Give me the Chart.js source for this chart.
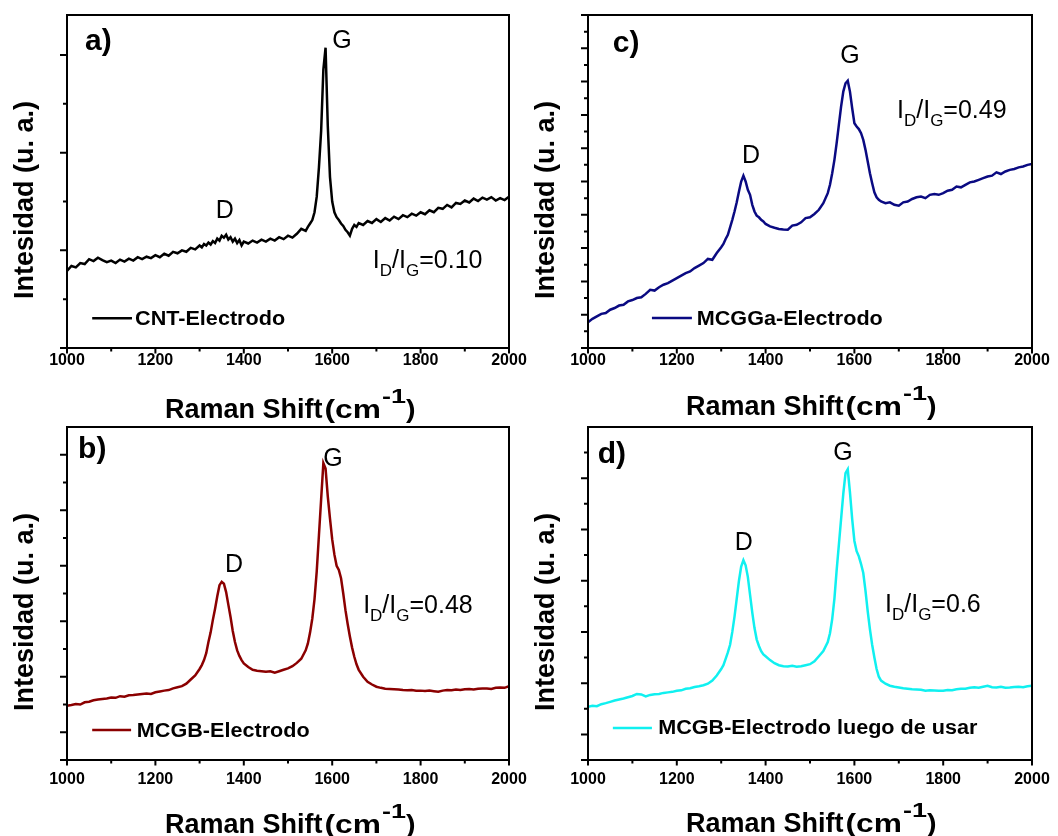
<!DOCTYPE html>
<html>
<head>
<meta charset="utf-8">
<script src="https://cdn.jsdelivr.net/npm/chart.js@4"></script>
<style>
html,body{margin:0;padding:0;background:#fff;}
body{width:1058px;height:836px;position:relative;overflow:hidden;}
canvas{position:absolute;}
</style>
</head>
<body>
<canvas id="ca" width="529" height="424" style="left:0;top:0"></canvas>
<canvas id="cc" width="529" height="424" style="left:529px;top:0"></canvas>
<canvas id="cb" width="529" height="418" style="left:0;top:418px"></canvas>
<canvas id="cd" width="529" height="418" style="left:529px;top:418px"></canvas>
<script>
// ---- data (Raman shift in cm^-1, intensity in arbitrary units) ----
const ramanShift = [
 1000,1010,1020,1030,1040,1050,1060,1070,1080,1090,1100,1110,1120,1130,1140,1150,1160,1170,1180,1190,1200,1210,1220,1230,1240,1250,1260,1270,1280,1290,1300,
 1305,1310,1315,1320,1325,1330,1335,1340,1345,1350,1355,1360,1365,1370,1375,1380,1385,1390,1395,1400,
 1410,1420,1430,1440,1450,1460,1470,1480,1490,1500,1510,1520,1530,1540,
 1545,1550,1555,1560,1565,1570,1575,1580,1585,1590,1595,1600,1605,1610,1615,1620,1625,1630,1635,1640,1645,1650,1655,1660,
 1670,1680,1690,1700,1710,1720,1730,1740,1750,1760,1770,1780,1790,1800,1810,1820,1830,1840,1850,1860,1870,1880,1890,1900,1910,1920,1930,1940,1950,1960,1970,1980,1990,2000
];
const cntElectrodo = [
 1.58,1.68,1.65,1.74,1.72,1.82,1.78,1.85,1.80,1.76,1.79,1.74,1.81,1.77,1.83,1.79,1.86,1.82,1.87,1.84,1.90,1.86,1.93,1.89,1.97,1.94,2.00,1.97,2.05,2.02,2.10,
 2.06,2.13,2.10,2.16,2.12,2.19,2.15,2.24,2.20,2.30,2.26,2.32,2.22,2.27,2.18,2.24,2.15,2.21,2.10,2.18,
 2.14,2.20,2.16,2.22,2.18,2.24,2.20,2.27,2.23,2.30,2.26,2.34,2.44,2.40,
 2.48,2.55,2.62,2.78,3.10,3.70,4.45,5.70,6.15,4.55,3.50,3.00,2.78,2.68,2.62,2.55,2.50,2.42,2.37,2.30,2.44,2.52,2.48,2.56,
 2.52,2.60,2.56,2.64,2.58,2.66,2.61,2.69,2.64,2.72,2.68,2.75,2.71,2.78,2.74,2.82,2.78,2.87,2.85,2.93,2.88,2.97,2.95,3.02,2.98,3.06,3.01,3.08,3.04,3.09,3.02,3.07,3.03,3.10
];
const mcggaElectrodo = [
 1.55,1.75,1.90,2.05,2.10,2.30,2.40,2.55,2.60,2.80,2.88,3.00,3.05,3.25,3.50,3.45,3.65,3.80,3.90,4.05,4.20,4.35,4.50,4.60,4.80,4.95,5.10,5.35,5.30,5.70,6.05,
 6.25,6.55,6.80,7.25,7.70,8.20,8.75,9.40,10.00,10.35,10.00,9.50,9.20,8.60,8.20,7.95,7.85,7.70,7.60,7.45,
 7.30,7.22,7.15,7.12,7.10,7.35,7.40,7.55,7.80,7.85,8.05,8.30,8.70,9.30,
 9.80,10.50,11.30,12.30,13.40,14.50,15.40,15.90,16.05,15.40,14.40,13.50,13.30,13.15,12.90,12.50,11.90,11.20,10.50,9.90,9.35,9.05,8.90,8.80,
 8.70,8.75,8.60,8.55,8.75,8.80,8.95,9.05,9.10,9.00,9.20,9.25,9.20,9.30,9.45,9.50,9.70,9.65,9.80,9.95,10.00,10.10,10.20,10.30,10.35,10.55,10.45,10.60,10.70,10.75,10.85,10.90,11.00,11.05
];
const mcgbElectrodo = [
 1.95,1.98,2.02,2.00,2.08,2.10,2.15,2.18,2.20,2.22,2.25,2.24,2.30,2.28,2.33,2.34,2.36,2.38,2.40,2.38,2.44,2.47,2.50,2.52,2.58,2.62,2.66,2.75,2.90,3.05,3.28,
 3.42,3.60,3.85,4.25,4.60,5.05,5.45,5.90,6.30,6.42,6.35,6.05,5.60,5.15,4.65,4.25,3.95,3.75,3.60,3.48,
 3.35,3.25,3.22,3.20,3.18,3.20,3.15,3.20,3.25,3.30,3.38,3.50,3.65,3.95,
 4.20,4.60,5.10,5.80,6.80,8.10,9.40,10.70,10.50,9.50,8.70,7.95,7.40,7.00,6.85,6.55,6.00,5.40,4.90,4.45,4.05,3.72,3.45,3.25,
 3.00,2.82,2.72,2.64,2.60,2.57,2.56,2.55,2.54,2.52,2.51,2.52,2.50,2.50,2.49,2.50,2.48,2.46,2.50,2.52,2.51,2.54,2.52,2.55,2.56,2.54,2.57,2.58,2.58,2.56,2.60,2.61,2.60,2.66
];
const mcgbLuegoDeUsar = [
 2.08,2.12,2.10,2.18,2.22,2.27,2.32,2.36,2.40,2.45,2.50,2.58,2.56,2.48,2.54,2.57,2.58,2.62,2.64,2.66,2.70,2.72,2.78,2.80,2.85,2.88,2.92,2.98,3.10,3.30,3.55,
 3.70,3.95,4.20,4.50,5.00,5.60,6.30,7.00,7.55,7.80,7.60,7.15,6.45,5.75,5.15,4.70,4.45,4.25,4.12,4.05,
 3.90,3.78,3.70,3.66,3.65,3.68,3.64,3.66,3.70,3.74,3.85,4.05,4.25,4.60,
 4.95,5.50,6.30,7.40,8.40,9.40,10.40,11.20,11.35,10.45,9.40,8.55,8.15,7.95,7.65,7.30,6.60,5.80,5.10,4.50,4.00,3.55,3.25,3.10,
 2.98,2.90,2.86,2.83,2.80,2.78,2.76,2.75,2.74,2.70,2.72,2.71,2.70,2.70,2.73,2.72,2.76,2.78,2.78,2.82,2.84,2.82,2.86,2.90,2.84,2.83,2.86,2.82,2.83,2.85,2.86,2.84,2.88,2.90
];
const seriesLabels = ['CNT-Electrodo','MCGGa-Electrodo','MCGB-Electrodo','MCGB-Electrodo luego de usar'];
const panelLetters = ['a)','c)','b)','d)'];
const ratioValues = ['0.10','0.49','0.48','0.6'];
const xTickLabels = [1000,1200,1400,1600,1800,2000];
const xMinorTicks = [1100,1300,1500,1700,1900];
const yMajorA = [0,2,4,6],            yMinorA = [1,3,5];
const yMajorC = [0,2,4,6,8,10,12,14,16,18,20], yMinorC = [1,3,5,7,9,11,13,15,17,19];
const yMajorB = [0,1,3,5,7,9,11],     yMinorB = [2,4,6,8,10];
const yMajorD = [0,1,3,5,7,9,11],     yMinorD = [2,4,6,8,10,12];
const xTitleMain = 'Raman Shift', xTitleUnit = '(cm', xTitleSup = '-1', xTitleEnd = ')';
const yTitle = 'Intesidad (u. a.)';

const FAM = '"Liberation Sans", Arial, Helvetica, sans-serif';
Chart.defaults.font.family = FAM;

// draws text with an optional horizontal stretch; returns advance width
function stretchText(ctx, t, x, y, sx) {
  ctx.save();
  ctx.translate(x, y);
  ctx.scale(sx, 1);
  ctx.fillText(t, 0, 0);
  const w = ctx.measureText(t).width * sx;
  ctx.restore();
  return w;
}

const decor = {
  id: 'decor',
  afterDraw(chart, args, o) {
    const {ctx, chartArea: ca} = chart;
    const x = chart.scales.x, y = chart.scales.y;
    ctx.save();
    ctx.strokeStyle = '#000';
    ctx.lineWidth = 2;
    ctx.lineCap = 'butt';
    ctx.beginPath();
    xTickLabels.forEach(v => { const p = x.getPixelForValue(v); ctx.moveTo(p, ca.bottom); ctx.lineTo(p, ca.bottom + 5.5); });
    xMinorTicks.forEach(v => { const p = x.getPixelForValue(v); ctx.moveTo(p, ca.bottom); ctx.lineTo(p, ca.bottom + 3.5); });
    o.yMajor.forEach(v => { const p = y.getPixelForValue(v); ctx.moveTo(ca.left, p); ctx.lineTo(ca.left - 7, p); });
    o.yMinor.forEach(v => { const p = y.getPixelForValue(v); ctx.moveTo(ca.left, p); ctx.lineTo(ca.left - 4, p); });
    ctx.stroke();
    ctx.strokeRect(ca.left, ca.top, ca.right - ca.left, ca.bottom - ca.top);

    ctx.fillStyle = '#000';
    ctx.textBaseline = 'alphabetic';
    // panel letter
    ctx.font = 'bold 30px ' + FAM; ctx.textAlign = 'left';
    ctx.fillText(o.letter, x.getPixelForValue(o.letterPos[0]), y.getPixelForValue(o.letterPos[1]));
    // peak labels
    ctx.font = '25px ' + FAM; ctx.textAlign = 'center';
    ctx.fillText('G', x.getPixelForValue(o.gPos[0]), y.getPixelForValue(o.gPos[1]));
    ctx.fillText('D', x.getPixelForValue(o.dPos[0]), y.getPixelForValue(o.dPos[1]));
    // ratio
    ctx.textAlign = 'left';
    let rx = x.getPixelForValue(o.ratioPos[0]); const ry = y.getPixelForValue(o.ratioPos[1]);
    const part = (t, size, dy) => { ctx.font = size + 'px ' + FAM; ctx.fillText(t, rx, ry + dy); rx += ctx.measureText(t).width; };
    part('I', 25, 0); part('D', 17, 8); part('/I', 25, 0); part('G', 17, 8); part('=' + o.ratio, 25, 0);
    // legend
    const ly = y.getPixelForValue(o.legend[3]);
    ctx.strokeStyle = o.color; ctx.lineWidth = 2.5;
    ctx.beginPath(); ctx.moveTo(x.getPixelForValue(o.legend[0]), ly); ctx.lineTo(x.getPixelForValue(o.legend[1]), ly); ctx.stroke();
    ctx.font = 'bold 20px ' + FAM; ctx.textBaseline = 'middle';
    stretchText(ctx, o.label, x.getPixelForValue(o.legend[2]), ly + 1, 1.08);
    // x title
    ctx.textBaseline = 'alphabetic';
    let tx = ca.left + 98; const tb = ca.bottom + o.titleDy;
    ctx.font = 'bold 27px ' + FAM;
    tx += stretchText(ctx, xTitleMain, tx, tb, 1);
    tx += 2;
    ctx.font = 'bold 26px ' + FAM;
    tx += stretchText(ctx, xTitleUnit, tx, tb, 1.22);
    tx += 1;
    ctx.font = 'bold 20px ' + FAM;
    tx += stretchText(ctx, xTitleSup, tx, tb - 15, 1.35);
    tx += 0;
    ctx.font = 'bold 26px ' + FAM;
    stretchText(ctx, xTitleEnd, tx, tb, 1.1);
    // y title
    ctx.translate(ca.left - 34, (ca.top + ca.bottom) / 2 + 18.5);
    ctx.rotate(-Math.PI / 2);
    ctx.font = 'bold 27px ' + FAM; ctx.textAlign = 'center';
    ctx.fillText(yTitle, 0, 0);
    ctx.restore();
  }
};

function makePanel(id, values, o) {
  new Chart(document.getElementById(id), {
    type: 'line',
    data: {
      labels: ramanShift,
      datasets: [{
        label: o.label,
        data: values,
        borderColor: o.color,
        borderWidth: 2.5,
        pointRadius: 0,
        tension: 0,
        fill: false
      }]
    },
    options: {
      responsive: false,
      animation: false,
      events: [],
      layout: { padding: { left: 0, top: o.padTop, right: o.padRight, bottom: 0 } },
      plugins: { legend: { display: false }, tooltip: { enabled: false }, decor: o },
      scales: {
        x: {
          type: 'linear', min: 1000, max: 2000,
          border: { display: false },
          grid: { display: true, drawOnChartArea: false, drawTicks: false },
          ticks: {
            stepSize: 200, maxRotation: 0, autoSkip: false, padding: o.tickPad,
            color: '#000', font: { size: 16, weight: 'bold' },
            callback: v => String(v)
          },
          afterFit: s => { s.height = o.xH; s.paddingLeft = 0; s.paddingRight = 0; s.paddingTop = 0; s.paddingBottom = 0; }
        },
        y: {
          min: 0, max: o.yMax,
          border: { display: false },
          grid: { display: false, drawTicks: false },
          ticks: { display: false },
          afterFit: s => { s.width = o.yW; s.paddingLeft = 0; s.paddingRight = 0; s.paddingTop = 0; s.paddingBottom = 0; }
        }
      }
    },
    plugins: [decor]
  });
}

makePanel('ca', cntElectrodo, {
  label: seriesLabels[0], color: '#000000', yMax: 6.82, yMajor: yMajorA, yMinor: yMinorA,
  padTop: 15, padRight: 20, yW: 67, xH: 76, tickPad: 3, titleDy: 70,
  letter: panelLetters[0], letterPos: [1041, 6.1], gPos: [1622, 6.14], dPos: [1357, 2.66],
  ratio: ratioValues[0], ratioPos: [1692, 1.64], legend: [1057, 1147, 1154, 0.61]
});
makePanel('cc', mcggaElectrodo, {
  label: seriesLabels[1], color: '#0a0a82', yMax: 20, yMajor: yMajorC, yMinor: yMinorC,
  padTop: 15, padRight: 26, yW: 59, xH: 76, tickPad: 3, titleDy: 67,
  letter: panelLetters[1], letterPos: [1056, 17.8], gPos: [1590, 17.1], dPos: [1367, 11.1],
  ratio: ratioValues[1], ratioPos: [1696, 13.8], legend: [1144, 1234, 1245, 1.8]
});
makePanel('cb', mcgbElectrodo, {
  label: seriesLabels[2], color: '#8b0000', yMax: 12, yMajor: yMajorB, yMinor: yMinorB,
  padTop: 9, padRight: 20, yW: 67, xH: 76, tickPad: 10, titleDy: 73,
  letter: panelLetters[2], letterPos: [1025, 10.9], gPos: [1602, 10.6], dPos: [1378, 6.77],
  ratio: ratioValues[2], ratioPos: [1670, 5.3], legend: [1057, 1145, 1158, 1.08]
});
makePanel('cd', mcgbLuegoDeUsar, {
  label: seriesLabels[3], color: '#10f0f0', yMax: 13, yMajor: yMajorD, yMinor: yMinorD,
  padTop: 9, padRight: 26, yW: 59, xH: 76, tickPad: 10, titleDy: 72,
  letter: panelLetters[3], letterPos: [1022, 11.6], gPos: [1574, 11.7], dPos: [1351, 8.2],
  ratio: ratioValues[3], ratioPos: [1669, 5.76], legend: [1056, 1144, 1158, 1.25]
});
</script>
</body>
</html>
